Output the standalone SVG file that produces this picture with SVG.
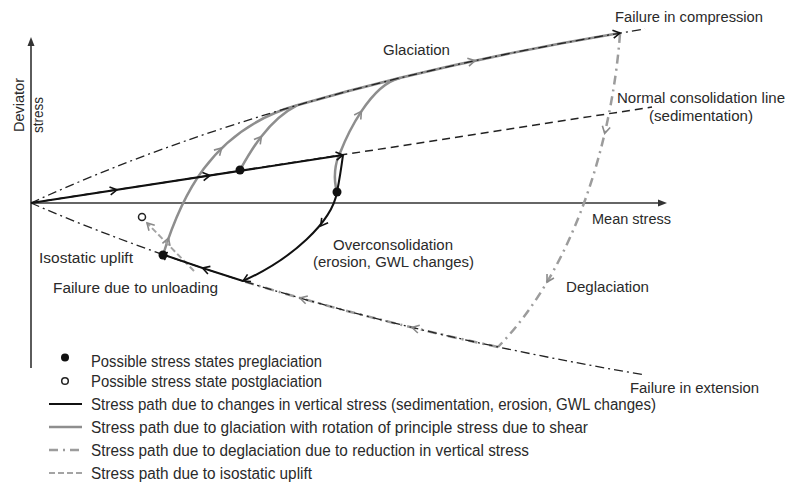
<svg xmlns="http://www.w3.org/2000/svg" width="790" height="486" viewBox="0 0 790 486">
<style>
text{font-family:"Liberation Sans",Arial,sans-serif;font-size:15.5px;fill:#2a2a2a}
.lg{font-size:16px}
.axis{stroke:#333;stroke-width:1.6;fill:none}
.env{stroke:#222;stroke-width:1.3;fill:none;stroke-dasharray:9 4 2 4}
.ncl{stroke:#222;stroke-width:1.5;fill:none;stroke-dasharray:8 5}
.blk{stroke:#111;stroke-width:2;fill:none}
.gry{stroke:#8e8e8e;stroke-width:2.5;fill:none}
.degl{stroke:#9c9c9c;stroke-width:2.5;fill:none;stroke-dasharray:9 5 2 5}
.iso{stroke:#a4a4a4;stroke-width:2;fill:none;stroke-dasharray:6 3}
.dot{fill:#111}
.odot{fill:#fff;stroke:#222;stroke-width:1.5}
</style>
<defs>
<path id="chk" d="M-7,-4 L0,0 L-7,4" fill="none" stroke="#111" stroke-width="1.6"/>
<path id="chg" d="M-7,-4 L0,0 L-7,4" fill="none" stroke="#8a8a8a" stroke-width="1.6"/>
</defs>
<rect width="790" height="486" fill="#fff"/>

<g id="axes">
<line class="axis" x1="31" y1="368" x2="31" y2="44"/>
<path d="M31,37 L27.5,46 L34.5,46 Z" fill="#333"/>
<line class="axis" x1="31" y1="203" x2="660" y2="203"/>
<path d="M667,203 L658,199.5 L658,206.5 Z" fill="#333"/>
<text transform="translate(24,132) rotate(-90)" textLength="54" lengthAdjust="spacingAndGlyphs">Deviator</text>
<text transform="translate(43,133) rotate(-90)" textLength="36" lengthAdjust="spacingAndGlyphs">stress</text>
<text x="592" y="224" textLength="79" lengthAdjust="spacingAndGlyphs">Mean stress</text>
</g>

<g id="connectors">
<path class="gry" d="M163,255 C180,200 210,130 297,105.3"/>
<path class="gry" d="M240,170 C250,152 268,120 297,105.3"/>
<path class="gry" d="M337,192 C333,178 335,163 340,153 C347,135 370,85 400,78"/>
<path class="gry" d="M297,105.3 Q445.5,62.3 620,33.1"/>
<path class="degl" d="M620,34 C612,140 575,268 498,347"/>
<path class="degl" d="M498,347 Q362,318 243,281"/>
<path class="iso" d="M194,271 L147,223"/>
<path class="env" d="M31,203 Q283.5,86.8 645,29"/>
<path class="env" d="M31,203 Q287,314 645,375"/>
<path class="ncl" d="M31,203 L652,107"/>
<path class="blk" d="M31,203 L343,155"/>
<path class="blk" d="M343,155 C341,170 339,182 337,192 C332,222 292,259 243,281"/>
<path class="blk" d="M243,281 Q202,268.2 163,254.5"/>
<use href="#chk" transform="translate(117,189.8) rotate(-8.75)"/>
<use href="#chk" transform="translate(210,175.5) rotate(-8.75)"/>
<use href="#chk" transform="translate(343,155) rotate(-8.75)"/>
<use href="#chk" transform="translate(320.7,225.9) rotate(127)"/>
<use href="#chk" transform="translate(243,281) rotate(154)"/>
<use href="#chk" transform="translate(202.5,268) rotate(198)"/>
<use href="#chk" transform="translate(160,254) rotate(199)"/>
<use href="#chg" transform="translate(168.5,238) rotate(-71)"/>
<use href="#chg" transform="translate(221.7,148) rotate(-45)"/>
<use href="#chg" transform="translate(261.4,136.4) rotate(-52)"/>
<use href="#chg" transform="translate(361.4,111.4) rotate(-56)"/>
<use href="#chg" transform="translate(475,60.7) rotate(-12)"/>
<use href="#chk" transform="translate(620,33.1) rotate(-9.5)"/>
<use href="#chg" transform="translate(604.7,133.4) rotate(103)"/>
<use href="#chg" transform="translate(547,282) rotate(120)"/>
<use href="#chg" transform="translate(412,327.5) rotate(193.6)"/>
<use href="#chg" transform="translate(300,298) rotate(196)"/>
<use href="#chg" transform="translate(147,223) rotate(226)"/>
</g>

<g id="states">
<circle class="dot" cx="163" cy="255" r="4.5"/>
<circle class="dot" cx="240" cy="170" r="4.5"/>
<circle class="dot" cx="337" cy="192" r="4.5"/>
<circle class="odot" cx="142" cy="217" r="3.5"/>
</g>

<g id="labels">
<text x="615" y="22" textLength="148" lengthAdjust="spacingAndGlyphs">Failure in compression</text>
<text x="383" y="55" textLength="67" lengthAdjust="spacingAndGlyphs">Glaciation</text>
<text x="617" y="103" textLength="168" lengthAdjust="spacingAndGlyphs">Normal consolidation line</text>
<text x="649" y="121" textLength="104" lengthAdjust="spacingAndGlyphs">(sedimentation)</text>
<text x="333" y="250" textLength="120" lengthAdjust="spacingAndGlyphs">Overconsolidation</text>
<text x="313" y="267" textLength="161" lengthAdjust="spacingAndGlyphs">(erosion, GWL changes)</text>
<text x="39" y="263" textLength="94" lengthAdjust="spacingAndGlyphs">Isostatic uplift</text>
<text x="53" y="293" textLength="165" lengthAdjust="spacingAndGlyphs">Failure due to unloading</text>
<text x="566" y="292" textLength="83" lengthAdjust="spacingAndGlyphs">Deglaciation</text>
<text x="630" y="392.5" textLength="129" lengthAdjust="spacingAndGlyphs">Failure in extension</text>
</g>

<g id="legend">
<circle class="dot" cx="65" cy="357.5" r="4"/>
<circle class="odot" cx="65" cy="381" r="3.3"/>
<line x1="49" y1="404" x2="82" y2="404" stroke="#111" stroke-width="2"/>
<line x1="49" y1="427" x2="82" y2="427" stroke="#8e8e8e" stroke-width="2.5"/>
<line x1="49" y1="450" x2="82" y2="450" stroke="#9c9c9c" stroke-width="2.5" stroke-dasharray="9 5 2 5"/>
<line x1="49" y1="473" x2="82" y2="473" stroke="#a4a4a4" stroke-width="2" stroke-dasharray="6 3"/>
<text class="lg" x="91" y="366.5" textLength="231" lengthAdjust="spacingAndGlyphs">Possible stress states preglaciation</text>
<text class="lg" x="91" y="386.5" textLength="231" lengthAdjust="spacingAndGlyphs">Possible stress state postglaciation</text>
<text class="lg" x="91" y="409.5" textLength="565" lengthAdjust="spacingAndGlyphs">Stress path due to changes in vertical stress (sedimentation, erosion, GWL changes)</text>
<text class="lg" x="91" y="432.5" textLength="497" lengthAdjust="spacingAndGlyphs">Stress path due to glaciation with rotation of principle stress due to shear</text>
<text class="lg" x="91" y="455.5" textLength="438" lengthAdjust="spacingAndGlyphs">Stress path due to deglaciation due to reduction in vertical stress</text>
<text class="lg" x="91" y="478.5" textLength="221" lengthAdjust="spacingAndGlyphs">Stress path due to isostatic uplift</text>
</g>
</svg>
